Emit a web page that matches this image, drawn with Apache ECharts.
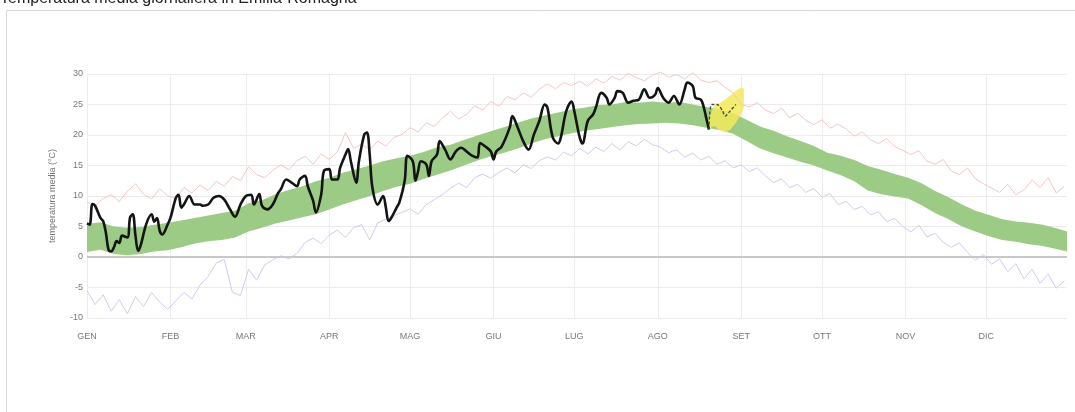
<!DOCTYPE html>
<html>
<head>
    <meta charset="utf-8">
    <title>Temperatura media giornaliera</title>
    <script src="https://cdn.jsdelivr.net/npm/echarts@6/dist/echarts.min.js"></script>
    <style>
        html, body { margin: 0; padding: 0; background: #fff; }
        #chart { width: 1075px; height: 412px; }
    </style>
</head>
<body>
<div id="chart"></div>
<script>
    // mesi e giorni per mese
    var months = ['GEN', 'FEB', 'MAR', 'APR', 'MAG', 'GIU', 'LUG', 'AGO', 'SET', 'OTT', 'NOV', 'DIC'];
    var monthDays = [31, 28, 31, 30, 31, 30, 31, 31, 30, 31, 30, 31];

    // fascia climatologica (verde), un valore ogni 5 giorni
    var bandDays = [0,5,10,15,20,25,30,35,40,45,50,55,60,65,70,75,80,85,90,95,100,105,110,115,120,125,130,135,140,145,150,155,160,165,170,175,180,185,190,195,200,205,210,215,220,225,230,235,240,245,250,255,260,265,270,275,280,285,290,295,300,305,310,315,320,325,330,335,340,345,350,355,360,364];
    var bandLow = [0.8,1.2,0.5,0.3,0.5,0.9,1.1,1.6,2.2,2.6,2.8,3.2,4.2,4.8,5.5,6.0,6.5,7.0,7.8,8.6,9.3,10.0,10.8,11.5,12.0,12.8,13.5,14.2,15.0,15.8,16.5,17.1,17.8,18.6,19.3,19.8,20.3,20.7,21.0,21.3,21.6,21.8,21.9,22.0,21.9,21.6,21.2,20.8,20.2,19.0,17.8,17.0,16.3,15.6,15.0,14.2,13.4,12.4,10.9,10.3,9.9,9.6,8.5,7.2,6.2,5.0,4.2,3.4,2.8,2.5,2.1,1.8,1.3,0.9];
    var bandHigh = [5.4,5.7,5.0,4.8,4.9,5.3,5.6,6.0,6.4,6.8,7.2,7.6,8.8,9.3,10.3,11.0,11.6,12.4,13.0,13.8,14.4,15.0,15.7,16.2,16.6,17.2,18.0,18.4,19.2,19.9,20.6,21.3,22.0,22.7,23.2,23.7,24.2,24.5,24.9,25.0,25.4,25.3,25.5,25.3,25.4,25.0,24.6,24.2,23.6,22.5,21.4,20.7,19.8,19.0,18.2,17.1,16.6,15.9,14.9,14.3,13.6,13.0,12.1,10.8,9.8,8.6,7.6,6.9,6.2,5.8,5.6,5.3,4.7,4.2];

    // record massimi e minimi, un valore ogni 3 giorni (giorno 0..363)
    var recordMax = [
        9.0,8.4,9.6,10.2,9.1,10.8,12.0,10.3,9.5,11.2,10.0,
        9.6,11.4,10.5,11.8,10.9,12.4,11.6,13.2,12.5,
        14.8,13.5,13.0,14.2,15.1,14.3,15.8,16.5,15.2,16.9,16.0,
        17.2,20.4,17.8,18.5,17.6,19.0,18.2,19.6,20.1,
        21.2,20.5,22.0,21.4,22.8,23.9,22.6,23.4,24.8,24.1,25.5,
        24.7,26.3,25.8,26.9,26.2,27.5,28.4,27.6,28.6,28.1,
        28.8,28.0,29.2,28.5,29.6,29.0,30.1,29.4,28.9,29.8,
        30.3,29.5,29.9,29.2,30.2,29.0,28.6,28.9,27.8,26.9,
        25.0,24.6,25.3,24.1,23.5,24.4,22.8,23.6,22.4,21.7,
        22.5,21.1,21.8,21.0,19.8,20.5,19.2,18.6,19.4,18.1,17.5,
        16.8,17.4,15.7,15.2,16.0,14.1,13.5,14.6,12.8,12.0,
        11.3,10.6,11.9,10.2,11.0,12.6,11.4,13.0,10.5,11.6
    ];
    var recordMin = [
        -5.5,-7.8,-6.2,-8.9,-7.0,-9.3,-6.5,-8.1,-5.8,-7.4,-8.6,
        -7.2,-5.8,-6.9,-4.6,-3.2,-1.0,-0.4,-5.8,-6.3,
        -2.0,-3.8,-1.3,-0.5,0.2,-0.3,0.6,2.4,3.1,2.2,3.6,
        4.4,3.2,4.8,5.3,2.8,5.6,6.2,6.8,7.3,
        7.9,7.0,8.6,9.4,10.2,11.3,12.1,11.4,13.0,13.6,12.9,
        13.9,14.6,13.8,15.1,14.5,15.8,16.4,15.9,17.2,16.6,
        17.8,16.9,18.0,17.3,18.6,17.5,18.9,18.2,19.3,18.4,
        18.0,17.1,17.6,16.4,17.0,15.9,16.5,15.2,15.8,14.6,
        15.1,14.0,14.6,13.3,12.2,12.8,11.4,11.9,10.6,11.2,
        9.8,10.4,8.6,9.1,7.8,8.3,6.9,7.4,5.8,6.3,5.0,
        4.1,5.2,3.3,3.9,2.4,1.6,2.3,0.8,-0.5,0.4,
        -1.2,-0.3,-2.4,-1.1,-3.6,-2.0,-4.3,-2.8,-5.1,-3.9
    ];

    // anno in corso (linea nera)
    var nowDays = [0,1,2,3,5,6,7,8,9,10,11,12,13,15,16,17,18,19,20,22,24,25,26,27,28,30,31,33,34,35,36,38,40,42,43,45,47,49,51,53,55,57,59,61,62,64,65,67,69,71,72,74,76,78,79,81,82,84,85,87,88,90,91,93,94,96,97,98,100,101,103,104,105,106,108,110,111,112,113,115,116,118,119,121,122,123,124,126,127,128,130,131,133,135,137,139,141,143,145,146,148,150,151,152,154,157,158,160,162,164,166,168,170,171,173,175,176,178,180,181,183,184,186,188,189,191,193,194,196,197,199,201,203,205,207,209,211,212,214,216,218,220,222,223,225,226,228,229,230,231];
    var nowTemp = [5.5,5.3,8.7,8.4,6.4,5.9,4.0,1.2,0.9,1.6,2.6,2.3,3.5,3.2,6.5,7.0,3.5,1.0,2.0,5.4,7.0,5.8,6.4,4.3,3.7,5.4,6.4,9.7,10.2,8.1,8.6,10.0,8.6,8.6,8.4,8.6,9.7,10.0,9.4,7.9,6.6,8.6,10.0,10.2,8.6,10.3,8.4,7.8,8.6,10.5,11.1,12.7,12.2,11.6,12.7,13.3,11.6,9.2,7.3,10.3,14.1,14.4,12.7,12.7,14.6,16.8,17.7,15.7,12.2,15.7,20.1,20.4,16.8,11.4,8.6,10.0,8.1,5.9,6.4,8.1,8.9,12.5,16.6,15.7,12.5,14.1,15.7,15.2,13.3,15.7,16.8,19.0,17.6,16.0,17.3,17.9,17.3,16.6,16.3,18.7,18.1,17.3,16.0,17.3,18.1,21.2,23.1,21.2,19.0,17.6,20.1,22.3,25.0,24.5,19.6,18.6,19.6,23.9,25.5,23.9,19.6,18.6,22.3,23.4,24.5,26.9,26.1,25.0,26.1,27.2,26.9,25.3,25.6,25.8,27.5,26.1,26.6,27.7,26.1,25.3,26.4,25.0,27.5,28.6,28.0,26.1,25.8,24.7,22.8,20.9];

    // previsione (tratteggio e fascia gialla)
    var fcDays = [231,232,234,236,237,239,241];
    var fcTemp = [20.9,25.0,25.0,24.0,23.1,24.0,25.0];
    var fcBandDays = [231,233,235,237,239,241,243,244];
    var fcLow = [21.0,21.5,20.8,20.4,20.9,22.0,23.4,24.6];
    var fcHigh = [22.5,24.8,25.2,25.8,26.5,27.2,27.8,27.6];

    var yTicks = [-10, -5, 0, 5, 10, 15, 20, 25, 30];

    // costruzione categorie giornaliere
    var days = [], monthStart = [];
    var k = 0;
    for (var m = 0; m < months.length; m++) {
        monthStart.push(k);
        for (var d = 0; d < monthDays[m]; d++) { days.push(months[m]); k++; }
    }
    function isMonthStart(i) { return monthStart.indexOf(i) >= 0; }
    function pairs(xs, ys) { return xs.map(function (x, i) { return [x, ys[i]]; }); }
    var recDays = recordMax.map(function (v, i) { return i * 3; });

    var chart = echarts.init(document.getElementById('chart'));
    chart.setOption({
        animation: false,
        title: {
            text: 'Temperatura media giornaliera in Emilia-Romagna',
            left: 0, top: -9, padding: 0,
            textStyle: { fontFamily: 'Liberation Sans', fontSize: 16, fontWeight: 'normal', color: '#222' }
        },
        graphic: [{
            type: 'rect', silent: true, z: -1,
            shape: { x: 6.5, y: 10.5, width: 1100, height: 420 },
            style: { fill: 'none', stroke: '#d6d6d6', lineWidth: 1 }
        }],
        grid: { left: 87, right: 8, top: 74, bottom: 94 },
        xAxis: {
            type: 'category',
            data: days,
            boundaryGap: false,
            axisLine: { show: false },
            axisTick: { show: false },
            axisLabel: { interval: isMonthStart, margin: 14, fontSize: 9, color: '#777', fontFamily: 'Liberation Sans' },
            splitLine: { show: true, interval: isMonthStart, lineStyle: { color: '#ececec', width: 1 } }
        },
        yAxis: {
            type: 'value',
            min: yTicks[0], max: yTicks[yTicks.length - 1], interval: 5,
            name: 'temperatura media (°C)',
            nameLocation: 'middle', nameGap: 30,
            nameTextStyle: { fontSize: 9, color: '#777', fontFamily: 'Liberation Sans' },
            axisLine: { show: false },
            axisTick: { show: false },
            axisLabel: { margin: 4, fontSize: 9, color: '#777', fontFamily: 'Liberation Sans' },
            splitLine: { lineStyle: { color: '#ececec', width: 1 } }
        },
        series: [
            {
                name: 'base', type: 'line', stack: 'clima', symbol: 'none', silent: true,
                data: pairs(bandDays, bandLow), lineStyle: { opacity: 0 }
            },
            {
                name: 'clima', type: 'line', stack: 'clima', symbol: 'none', silent: true,
                data: pairs(bandDays, bandHigh.map(function (v, i) { return v - bandLow[i]; })),
                lineStyle: { opacity: 0 },
                areaStyle: { color: '#9ccb85', opacity: 1 }
            },
            {
                name: 'max', type: 'line', symbol: 'none', clip: false,
                data: pairs(recDays, recordMax),
                lineStyle: { color: '#f6c4c4', width: 1 }
            },
            {
                name: 'min', type: 'line', symbol: 'none', clip: false,
                data: pairs(recDays, recordMin),
                lineStyle: { color: '#ccccf2', width: 1 },
                markLine: {
                    silent: true, symbol: 'none', label: { show: false },
                    lineStyle: { color: '#c8c8c8', width: 2, type: 'solid' },
                    data: [{ yAxis: 0 }]
                }
            },
            {
                name: 'fbase', type: 'line', stack: 'prev', symbol: 'none', silent: true,
                data: pairs(fcBandDays, fcLow), lineStyle: { opacity: 0 }
            },
            {
                name: 'fband', type: 'line', stack: 'prev', symbol: 'none', silent: true, smooth: 0.3,
                data: pairs(fcBandDays, fcHigh.map(function (v, i) { return v - fcLow[i]; })),
                lineStyle: { opacity: 0 },
                areaStyle: { color: '#f3ea5a', opacity: 0.85 }
            },
            {
                name: 'oggi', type: 'line', symbol: 'none', smooth: 0.35,
                data: pairs(nowDays, nowTemp),
                lineStyle: { color: '#141414', width: 2.6 }
            },
            {
                name: 'previsione', type: 'line', symbol: 'none', smooth: 0.3,
                data: pairs(fcDays, fcTemp),
                lineStyle: { color: '#444', width: 1.3, type: [3, 2] }
            }
        ]
    });
</script>
</body>
</html>
